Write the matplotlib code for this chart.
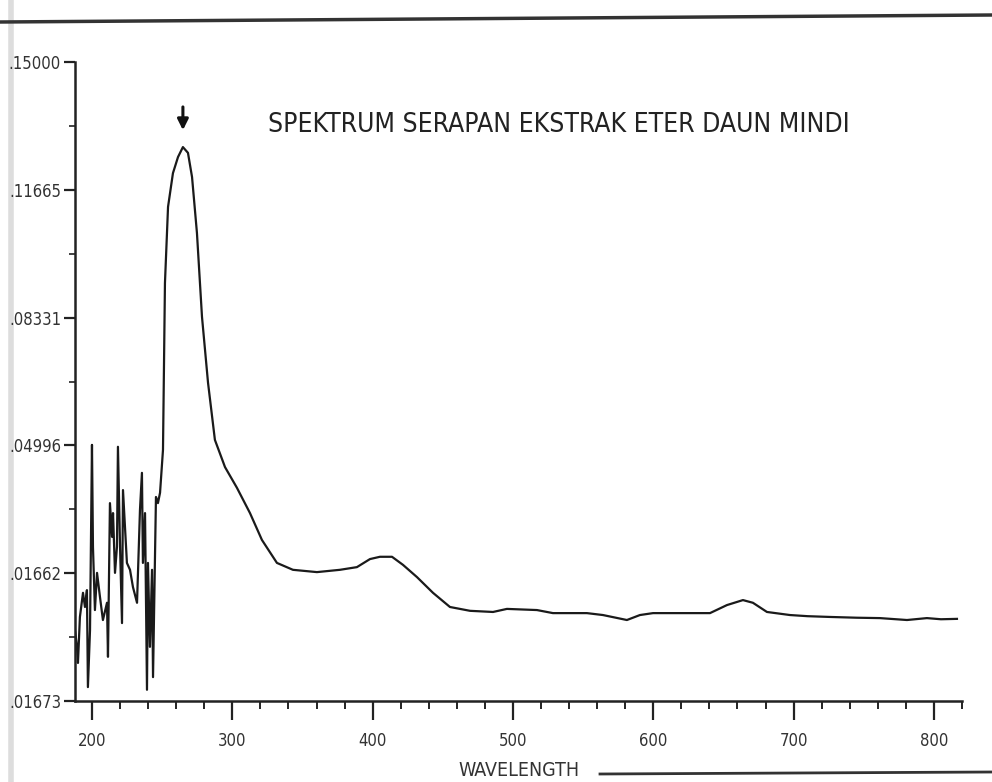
import matplotlib
matplotlib.use("Agg")
import matplotlib.pyplot as plt
from matplotlib.lines import Line2D
from matplotlib.ticker import FixedLocator, MultipleLocator

# ---------------- data ----------------
wavelength = [187.9, 189.3, 190.0, 191.4, 193.6, 195.0, 196.4, 197.1, 198.6, 200.0,
              200.7, 202.1, 203.6, 205.7, 207.8, 210.7, 211.4, 212.8, 214.3, 215.0,
              216.4, 217.8, 218.5, 220.0, 221.4, 222.1, 224.9, 227.1, 229.2, 232.1,
              234.2, 235.6, 236.3, 237.8, 239.2, 239.9, 241.3, 242.8, 243.5, 244.9,
              245.6, 247.0, 248.5, 250.6, 251.3, 252.0, 254.2, 257.7, 261.3, 264.8,
              268.4, 271.3, 274.8, 278.4, 282.7, 287.6, 294.8, 303.3, 312.6, 321.1,
              331.8, 343.2, 360.3, 376.7, 388.8, 398.1, 405.2, 413.8, 421.6, 431.6,
              443.0, 455.1, 469.4, 485.8, 495.7, 517.1, 528.5, 552.7, 564.1, 581.2,
              590.5, 599.8, 624.0, 640.4, 652.5, 663.9, 671.0, 681.0, 697.4, 710.0,
              725.9, 745.0, 761.5, 780.8, 795.0, 805.0, 816.4]
absorbance = [0.0018, -0.0026, -0.0068, 0.0052, 0.0115, 0.0078, 0.0122, -0.0131, 0.0018, 0.0501,
              0.0235, 0.0070, 0.0167, 0.0104, 0.0044, 0.0089, -0.0052, 0.0349, 0.0261, 0.0323,
              0.0167, 0.0235, 0.0496, 0.0235, 0.0036, 0.0383, 0.0193, 0.0175, 0.0130, 0.0089,
              0.0331, 0.0428, 0.0193, 0.0323, -0.0138, 0.0193, -0.0026, 0.0175, -0.0105, 0.0209,
              0.0365, 0.0349, 0.0376, 0.0488, 0.0704, 0.0923, 0.1122, 0.1210, 0.1252, 0.1278,
              0.1263, 0.1200, 0.1054, 0.0835, 0.0663, 0.0514, 0.0443, 0.0389, 0.0323, 0.0253,
              0.0193, 0.0175, 0.0169, 0.0175, 0.0182, 0.0203, 0.0209, 0.0209, 0.0188, 0.0156,
              0.0115, 0.0078, 0.0068, 0.0065, 0.0073, 0.0070, 0.0062, 0.0062, 0.0057, 0.0044,
              0.0057, 0.0062, 0.0062, 0.0062, 0.0083, 0.0096, 0.0089, 0.0065, 0.0057, 0.0054,
              0.0052, 0.0050, 0.0049, 0.0044, 0.0049, 0.0046, 0.0047]

y_ticks = [-0.01673, 0.01662, 0.04996, 0.08331, 0.11665, 0.15000]
y_tick_labels = [".01673", ".01662", ".04996", ".08331", ".11665", ".15000"]
x_ticks = [200, 300, 400, 500, 600, 700, 800]
x_tick_labels = ["200", "300", "400", "500", "600", "700", "800"]

title_text = "SPEKTRUM SERAPAN EKSTRAK ETER DAUN MINDI"
x_label = "WAVELENGTH"
peak_wavelength = 264.8

# ---------------- figure ----------------
plt.rcParams['font.family'] = ['DejaVu Sans']
plt.rcParams['font.stretch'] = 'condensed'
fig = plt.figure(figsize=(9.92, 7.82), dpi=100)
W, H = 992, 782

# scan artifact: faint vertical stripe on the left (behind everything)
fig.add_artist(Line2D([11 / W, 11 / W], [0, 1], transform=fig.transFigure,
                      color="#dddddd", lw=4, zorder=-5))

ax = fig.add_axes([75 / W, 1 - 701 / H, (962 - 75) / W, (701 - 62) / H])
ax.patch.set_alpha(0)

ax.plot(wavelength, absorbance, color="#1a1a1a", lw=1.6)

ax.set_xlim(187.9, 820)
ax.set_ylim(-0.01673, 0.15000)

for s in ("top", "right"):
    ax.spines[s].set_visible(False)
for s in ("left", "bottom"):
    ax.spines[s].set_linewidth(1.8)
    ax.spines[s].set_color("#222222")

ax.set_yticks(y_ticks)
ax.set_yticklabels(y_tick_labels, fontsize=12, color="#333333")
ax.set_xticks(x_ticks)
ax.set_xticklabels(x_tick_labels, fontsize=12, color="#333333")
ax.xaxis.set_minor_locator(MultipleLocator(20))
ax.yaxis.set_minor_locator(FixedLocator([(a + b) / 2 for a, b in zip(y_ticks[:-1], y_ticks[1:])]))
ax.tick_params(axis="x", which="major", length=14, width=1.6, pad=8, color="#222222")
ax.tick_params(axis="x", which="minor", length=6, width=1.4, color="#222222")
ax.tick_params(axis="y", which="major", length=8, width=1.6, pad=2, color="#222222")
ax.tick_params(axis="y", which="minor", length=4, width=1.2, color="#222222")

ax.set_xlabel(x_label, fontsize=14, color="#333333", labelpad=8)

ax.text((559 - 75) / 887, (701 - 125) / 639, title_text, transform=ax.transAxes,
        ha="center", va="center", fontsize=19, color="#222222")

ax.annotate("", xy=(peak_wavelength, 0.1315), xytext=(peak_wavelength, 0.1390),
            arrowprops=dict(arrowstyle="-|>", lw=2.2, color="#111111", mutation_scale=16))

# scan artifacts: page edges
fig.add_artist(Line2D([0, 1], [1 - 22 / H, 1 - 15 / H], transform=fig.transFigure,
                      color="#333333", lw=2.5))
fig.add_artist(Line2D([600 / W, 1], [1 - 774 / H, 1 - 772 / H], transform=fig.transFigure,
                      color="#333333", lw=2.0))

fig.savefig("out.png", dpi=100)
